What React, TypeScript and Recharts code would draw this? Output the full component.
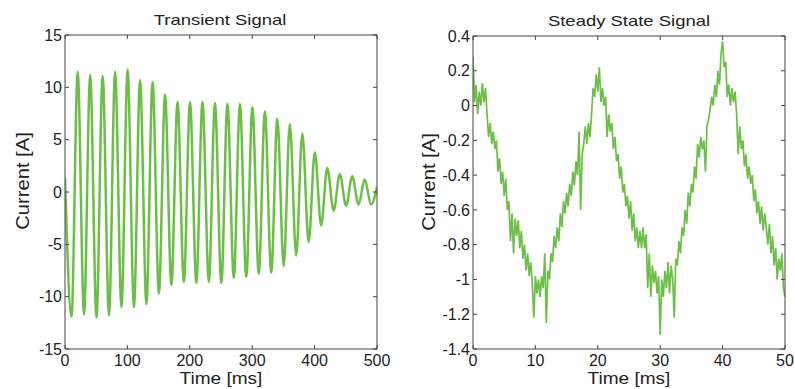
import React from "react";
import { LineChart, Line, XAxis, YAxis } from "recharts";

// ---- Transient signal: peaks / troughs (t in ms, current in A)
const transientTimes = [
  0, 10.5, 20.3, 30.5, 40.3, 50.5, 60.3, 70.5, 80.3, 90.5, 100.3, 110.5, 120.3, 130.5,
  140.3, 150.5, 160.3, 170.5, 180.3, 190.5, 200.3, 210.5, 220.3, 230.5, 240.3, 250.5,
  260.3, 270.5, 280.3, 290.5, 300.3, 310.5, 320.3, 330.5, 340.3, 350.5, 360.3, 370.5,
  380.3, 390.5, 400.3, 410.5, 420.3, 430.5, 440.3, 450.5, 460.3, 470.5, 480.3, 490.5, 500,
];
const transientValues = [
  1.3, -11.9, 11.5, -11.7, 11.2, -12.0, 11.1, -11.8, 11.5, -11.0, 11.7, -11.0, 10.7, -10.7,
  10.5, -9.7, 9.3, -8.9, 8.6, -8.6, 8.6, -8.7, 8.6, -8.6, 8.5, -8.7,
  8.4, -8.2, 8.4, -8.1, 8.1, -7.8, 7.7, -7.7, 7.0, -7.1, 6.5, -6.1,
  5.6, -4.8, 3.8, -3.2, 2.3, -1.8, 1.7, -1.3, 1.5, -1.2, 1.2, -1.2, 0.5,
];
const transientXTicks = [0, 100, 200, 300, 400, 500];
const transientYTicks = [-15, -10, -5, 0, 5, 10, 15];

// ---- Steady state signal: samples every 0.25 ms
const steadyStep = 0.25;
const steadyValues = [
  0.28, 0.02, 0.12, -0.05, 0.08, 0.0, 0.13, 0.02, 0.1, -0.05,
  -0.18, -0.1, -0.22, -0.15, -0.25, -0.2, -0.38, -0.3, -0.45, -0.38,
  -0.52, -0.42, -0.6, -0.55, -0.78, -0.62, -0.85, -0.65, -0.75, -0.66,
  -0.82, -0.72, -0.88, -0.8, -0.95, -0.85, -0.98, -0.9, -1.02, -1.22,
  -0.98, -1.08, -1.0, -1.1, -0.98, -1.05, -0.85, -1.25, -0.95, -1.0,
  -0.85, -0.9, -0.75, -0.82, -0.7, -0.78, -0.62, -0.7, -0.55, -0.62,
  -0.5, -0.58, -0.45, -0.52, -0.38, -0.46, -0.32, -0.4, -0.15, -0.6,
  -0.28, -0.22, -0.12, -0.22, -0.1, -0.18, -0.05, 0.1, 0.05, 0.18,
  0.08, 0.22, 0.02, 0.1, 0.0, 0.05, -0.18, -0.05, -0.15, -0.1,
  -0.25, -0.18, -0.32, -0.28, -0.42, -0.35, -0.5, -0.45, -0.58, -0.52,
  -0.65, -0.55, -0.72, -0.62, -0.78, -0.7, -0.82, -0.72, -0.82, -0.7,
  -0.82, -0.74, -1.05, -0.85, -1.1, -0.92, -1.02, -0.95, -1.08, -0.98,
  -1.32, -1.0, -1.1, -0.95, -1.05, -0.9, -1.08, -0.92, -1.0, -1.22,
  -0.88, -0.92, -0.78, -0.85, -0.7, -0.75, -0.6, -0.68, -0.5, -0.58,
  -0.45, -0.5, -0.35, -0.42, -0.22, -0.3, -0.18, -0.25, -0.2, -0.38,
  -0.12, -0.08, -0.02, 0.05, 0.0, 0.12, 0.05, 0.2, 0.12, 0.3,
  0.37, 0.22, 0.25, 0.05, 0.12, 0.0, 0.1, 0.02, 0.08, -0.05,
  -0.28, -0.12, -0.25, -0.2, -0.35, -0.28, -0.42, -0.35, -0.45, -0.4,
  -0.55, -0.48, -0.62, -0.55, -0.68, -0.58, -0.72, -0.62, -0.7, -0.8,
  -0.68, -0.85, -0.75, -0.92, -0.82, -1.0, -0.88, -0.95, -0.85, -1.05,
  -1.1,
];
const steadyXTicks = [0, 10, 20, 30, 40, 50];
const steadyYTicks = [-1.4, -1.2, -1, -0.8, -0.6, -0.4, -0.2, 0, 0.2, 0.4];

const transientData = transientTimes.map((t, i) => ({ t, v: transientValues[i] }));
const steadyData = steadyValues.map((v, i) => ({ t: +(i * steadyStep).toFixed(2), v }));

const GREEN = "#6cbf46";
const AXIS = "#444";
const FONT = "'Liberation Sans', Arial, Helvetica, sans-serif";
const tickStyle = { fontSize: 16, fill: "#222", fontFamily: FONT };
const NoTick = () => <g />;

function Panel(props: {
  data: { t: number; v: number }[];
  xDomain: [number, number];
  yDomain: [number, number];
  xTicks: number[];
  yTicks: number[];
  width: number;
  yAxisWidth: number;
  right: number;
  top: number;
  strokeWidth: number;
  smooth: boolean;
}) {
  const { data, xDomain, yDomain, xTicks, yTicks, width, yAxisWidth, right, top, strokeWidth, smooth } = props;
  return (
    <LineChart width={width} height={389} data={data} margin={{ top: top - 1, right: right - 1, bottom: 0, left: 0 }}>
      <XAxis
        dataKey="t"
        type="number"
        domain={xDomain}
        ticks={xTicks}
        interval={0}
        height={40}
        tickSize={-4}
        tickMargin={10}
        stroke={AXIS}
        tick={tickStyle}
        allowDataOverflow
      />
      <XAxis
        xAxisId="top"
        dataKey="t"
        orientation="top"
        type="number"
        domain={xDomain}
        ticks={xTicks}
        interval={0}
        height={1}
        tickSize={-4}
        stroke={AXIS}
        tick={NoTick}
        allowDataOverflow
      />
      <YAxis
        type="number"
        domain={yDomain}
        ticks={yTicks}
        interval={0}
        width={yAxisWidth}
        tickSize={-4}
        tickMargin={7}
        stroke={AXIS}
        tick={tickStyle}
        allowDataOverflow
      />
      <YAxis
        yAxisId="right"
        orientation="right"
        type="number"
        domain={yDomain}
        ticks={yTicks}
        interval={0}
        width={1}
        tickSize={-4}
        stroke={AXIS}
        tick={NoTick}
        allowDataOverflow
      />
      <Line
        xAxisId="top"
        yAxisId="right"
        dataKey="v"
        type="linear"
        stroke="none"
        strokeWidth={0}
        dot={false}
        activeDot={false}
        isAnimationActive={false}
      />
      <Line
        dataKey="v"
        type={smooth ? "monotone" : "linear"}
        stroke={GREEN}
        strokeWidth={strokeWidth}
        dot={false}
        isAnimationActive={false}
      />
    </LineChart>
  );
}

function Txt(props: { x: number; y: number; text: string; size: number; sx: number; rotate?: number }) {
  const { x, y, text, size, sx, rotate } = props;
  const tr = `translate(${x},${y})${rotate ? ` rotate(${rotate})` : ""} scale(${sx},1)`;
  return (
    <text transform={tr} textAnchor="middle" fontSize={size} fontFamily={FONT} fill="#222">
      {text}
    </text>
  );
}

export default function App() {
  return (
    <div style={{ position: "absolute", left: 0, top: 0, width: 795, height: 389, background: "#fff" }}>
      <div style={{ position: "absolute", left: 0, top: 0 }}>
        <Panel
          data={transientData}
          xDomain={[0, 500]}
          yDomain={[-15, 15]}
          xTicks={transientXTicks}
          yTicks={transientYTicks}
          width={400}
          yAxisWidth={65}
          right={23}
          top={35}
          strokeWidth={2.5}
          smooth
        />
      </div>
      <div style={{ position: "absolute", left: 400, top: 0 }}>
        <Panel
          data={steadyData}
          xDomain={[0, 50]}
          yDomain={[-1.4, 0.4]}
          xTicks={steadyXTicks}
          yTicks={steadyYTicks}
          width={395}
          yAxisWidth={73}
          right={10}
          top={36}
          strokeWidth={1.7}
          smooth={false}
        />
      </div>
      <svg width={795} height={389} style={{ position: "absolute", left: 0, top: 0, pointerEvents: "none" }}>
        <Txt x={220} y={25} text="Transient Signal" size={14} sx={1.32} />
        <Txt x={629} y={25.5} text="Steady State Signal" size={14} sx={1.32} />
        <Txt x={221} y={384} text="Time [ms]" size={16} sx={1.19} />
        <Txt x={629} y={384} text="Time [ms]" size={16} sx={1.19} />
        <Txt x={28.5} y={181} text="Current [A]" size={18} sx={1.12} rotate={-90} />
        <Txt x={435} y={182} text="Current [A]" size={18} sx={1.12} rotate={-90} />
      </svg>
    </div>
  );
}
